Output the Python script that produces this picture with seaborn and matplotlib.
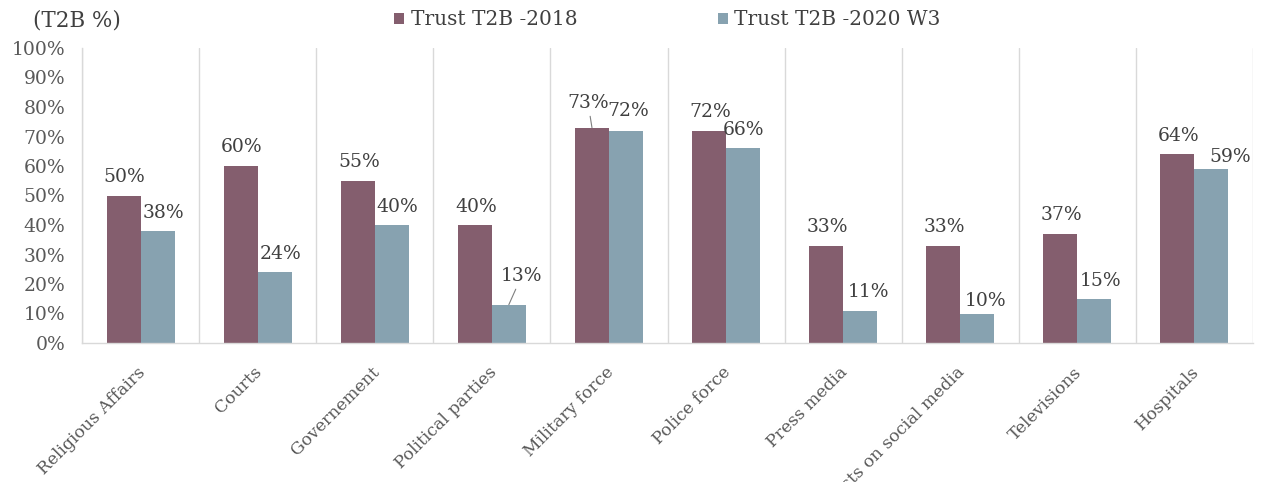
import pandas as pd
import matplotlib
matplotlib.use("Agg")
import matplotlib.pyplot as plt
import matplotlib.transforms as mtransforms
import seaborn as sns

# data
categories = ["Religious Affairs", "Courts", "Governement", "Political parties",
              "Military force", "Police force", "Press media",
              "Posts on social media", "Televisions", "Hospitals"]
trust_2018 = [50, 60, 55, 40, 73, 72, 33, 33, 37, 64]
trust_2020 = [38, 24, 40, 13, 72, 66, 11, 10, 15, 59]
series_names = ["Trust T2B -2018", "Trust T2B -2020 W3"]
y_ticks = list(range(0, 101, 10))

COLORS = ["#845E6E", "#87A2B0"]
GRID = "#D9D9D9"
TEXT = "#404040"
TICK = "#595959"
FS = 13.5

# label offsets in pixels (dx, dy) per series, with a few hand-placed exceptions
DEFAULT_OFFSET = [(1, 18.5), (6, 18)]
SPECIAL = {
    (1, "Political parties"): (13, 29, True),
    (0, "Military force"): (-4, 25, True),
    (1, "Military force"): (2, 20, False),
    (1, "Police force"): (0, 18, False),
    (1, "Press media"): (8, 19, False),
    (1, "Posts on social media"): (8, 13, False),
    (1, "Hospitals"): (19, 12, False),
}


def build_frame():
    rows = []
    for name, vals in zip(series_names, [trust_2018, trust_2020]):
        for cat, v in zip(categories, vals):
            rows.append({"category": cat, "series": name, "value": v / 100})
    return pd.DataFrame(rows)


def plot(df):
    sns.set_style("white")
    plt.rcParams["font.family"] = ["DejaVu Serif"]
    fig = plt.figure(figsize=(12.61, 4.82), dpi=100)
    ax = fig.add_axes([82 / 1261, 1 - 343 / 482, (1253 - 82) / 1261, (343 - 48) / 482])

    sns.barplot(data=df, x="category", y="value", hue="series", order=categories,
                hue_order=series_names, palette=COLORS, width=0.58,
                saturation=1, linewidth=0, ax=ax)

    ax.set_xlim(-0.5, len(categories) - 0.5)
    ax.set_ylim(0, 1)
    ax.set_yticks([t / 100 for t in y_ticks])
    ax.set_yticklabels([f"{t}%" for t in y_ticks])
    ax.set_xlabel("")
    ax.set_ylabel("")

    # vertical separators between categories
    ax.set_xticks([i - 0.5 for i in range(len(categories) + 1)], minor=True)
    ax.grid(False)
    ax.xaxis.grid(True, which="minor", color=GRID, linewidth=1)
    ax.set_axisbelow(True)
    for side in ["top", "right"]:
        ax.spines[side].set_visible(False)
    for side in ["left", "bottom"]:
        ax.spines[side].set_color(GRID)
        ax.spines[side].set_linewidth(1)

    ax.tick_params(axis="y", length=0, pad=12, labelsize=FS, labelcolor=TICK)
    ax.tick_params(axis="x", which="both", length=0)
    ax.tick_params(axis="x", pad=15, labelsize=12.3, labelcolor=TICK)
    shift = mtransforms.ScaledTranslation(-4 / 100, 0, fig.dpi_scale_trans)
    for lbl in ax.get_xticklabels():
        lbl.set_rotation(45)
        lbl.set_ha("right")
        lbl.set_va("top")
        lbl.set_rotation_mode("anchor")
        lbl.set_transform(lbl.get_transform() + shift)

    # value labels
    for s, cont in enumerate(ax.containers):
        for cat, bar in zip(categories, cont):
            h = bar.get_height()
            x = bar.get_x() + bar.get_width() / 2
            dx, dy = DEFAULT_OFFSET[s]
            leader = False
            if (s, cat) in SPECIAL:
                dx, dy, leader = SPECIAL[(s, cat)]
            arrow = dict(arrowstyle="-", color="#7F7F7F", lw=0.8,
                         shrinkA=1, shrinkB=0) if leader else None
            ax.annotate(f"{round(h * 100)}%", xy=(x, h), xytext=(dx, dy),
                        textcoords="offset pixels", ha="center", va="center",
                        fontsize=FS, color=TEXT, arrowprops=arrow,
                        annotation_clip=False)

    ax.legend(loc="center", bbox_to_anchor=(0.5, 1.095), ncol=2, frameon=False,
              fontsize=14.5, handlelength=0.5, handleheight=0.5,
              handletextpad=0.3, columnspacing=7.0, labelcolor=TEXT)
    fig.text(33 / 1261, 1 - 20 / 482, "(T2B %)", ha="left", va="center",
             fontsize=15.5, color=TEXT)
    fig.savefig("out.png", dpi=100)


plot(build_frame())
